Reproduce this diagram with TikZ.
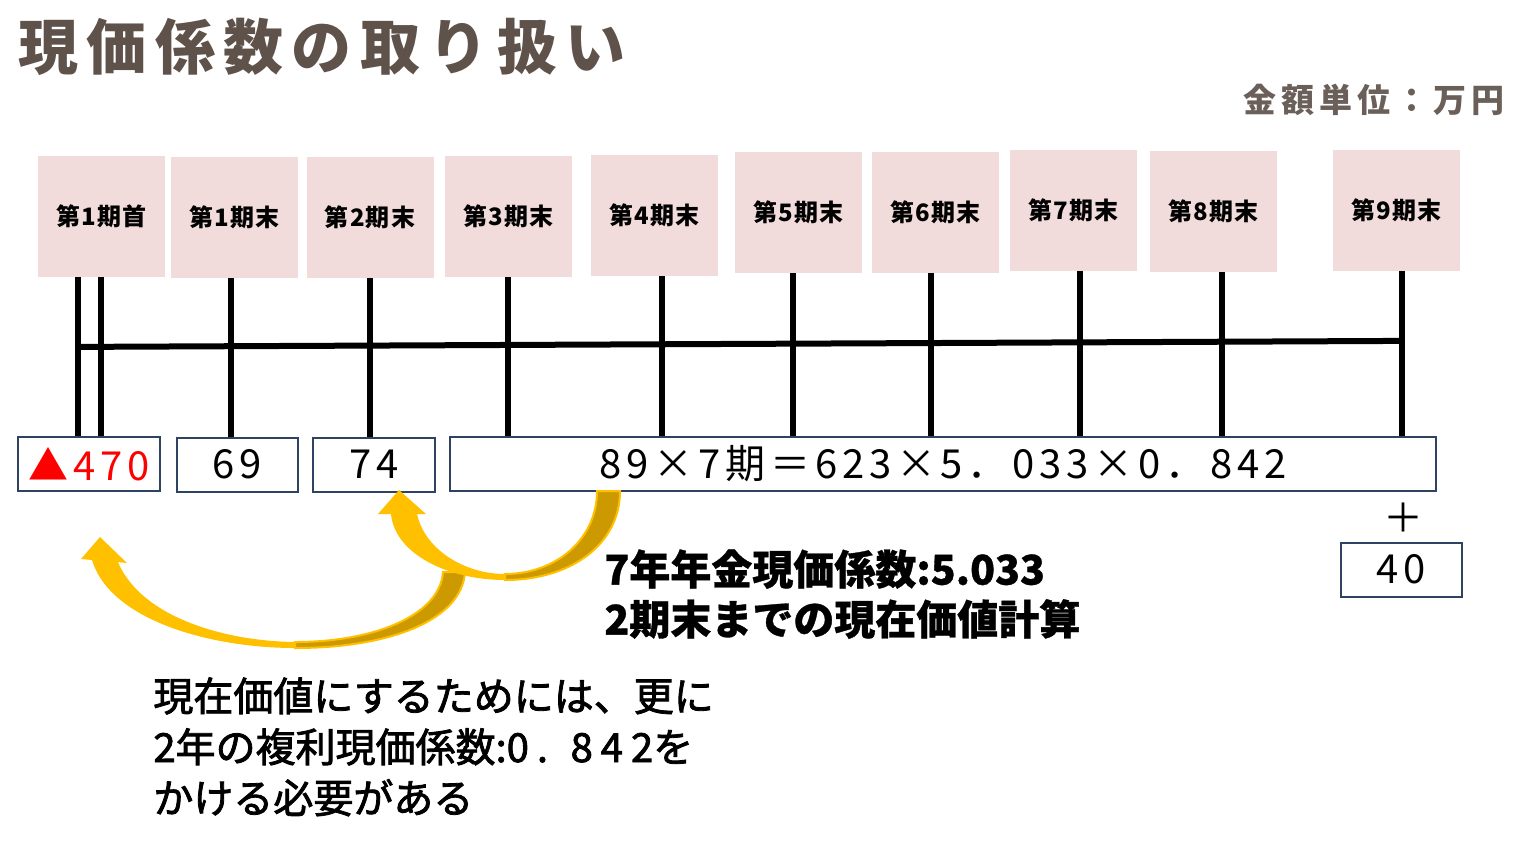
\documentclass[tikz,border=0pt]{standalone}
\usepackage{fontspec}
\usepackage{xcolor}
\usepackage{tikz}
\usetikzlibrary{calc}
\usetikzlibrary{positioning}
\setmainfont{Noto Sans CJK JP}
\newfontfamily\numfont{Noto Sans CJK JP}[LetterSpace=12]
\newfontfamily\titlefont{Noto Sans CJK JP}[LetterSpace=14]
\newfontfamily\unitfont{Noto Sans CJK JP}[LetterSpace=15]
\newfontfamily\labelfont{Noto Sans CJK JP}[LetterSpace=5]
\newfontfamily\midfont{Noto Sans CJK JP}[FakeBold=2]
\newfontfamily\midnumfont{Noto Sans CJK JP}[FakeBold=2,LetterSpace=20]
\newfontfamily\heavyfont{Noto Sans CJK JP}[FakeBold=0.8]
\definecolor{periodpink}{HTML}{F2DCDB}
\definecolor{titlebrown}{HTML}{5E524A}
\definecolor{unitbrown}{HTML}{6B6059}
\definecolor{boxnavy}{HTML}{2E4362}
\definecolor{arrowyellow}{HTML}{FFC000}
\definecolor{arrowdark}{HTML}{CC9A00}

\tikzset{
  period/.style={fill=periodpink, minimum width=63.5pt, minimum height=60.5pt, inner sep=0pt,
    font=\labelfont\bfseries\fontsize{12}{14}\selectfont},
  amount/.style={draw=boxnavy, line width=1pt, fill=white, minimum height=27pt, inner sep=0pt,
    font=\numfont\fontsize{20}{22}\selectfont},
  tick/.style={line width=3pt, black},
  bendarrow/.style={fill=arrowyellow},
  bendtail/.style={fill=arrowdark, draw=arrowyellow, line width=1pt}
}

\begin{document}
\begin{tikzpicture}[x=0.5pt,y=-0.5pt]
  \useasboundingbox (0,0) rectangle (1536,864);
  \node[anchor=west, inner sep=0pt, text=titlebrown, font=\titlefont\bfseries\fontsize{30}{32}\selectfont] (title) at (18,47) {現価係数の取り扱い};
  \node[anchor=east, inner sep=0pt, text=unitbrown, font=\unitfont\bfseries\fontsize{16.5}{18}\selectfont] (unit) at (1505,100) {金額単位：万円};

  \node[amount, minimum width=71pt, text=red] (v1) at (89,464) {▲470};
  \node[amount, minimum width=60.5pt] (v2) at (237.5,464.5) {69};
  \node[amount, minimum width=61pt] (v3) at (374,464.5) {74};
  \node[amount, minimum width=493pt] (v4) at (943,463.5) {89×7期＝623×5．033×0．842};
  \node[amount, minimum width=60.5pt] (v5) at (1401.5,569.5) {40};
  \node[font=\fontsize{20}{22}\selectfont] (plus) at (1403,518) {＋};

  \foreach \n/\lbl/\cx/\cy/\lx/\v in {
    p1/第1期首/101.5/216/101/v1,
    p2/第1期末/234.5/217.5/231/v2,
    p3/第2期末/370/217.5/370/v3,
    p4/第3期末/508.5/216/508/v4,
    p5/第4期末/654.5/215/662/v4,
    p6/第5期末/798.5/212.5/793/v4,
    p7/第6期末/935.5/212.5/931/v4,
    p8/第7期末/1073.5/210/1080/v4,
    p9/第8期末/1213.5/211/1222/v4,
    p10/第9期末/1396.5/210/1402/v4}
  {
    \node[period] (\n) at (\cx,\cy) {\lbl};
    \coordinate (top\n) at ($(\n.south)+(\lx-\cx,0)$);
    \draw[tick] (top\n) -- (top\n |- \v.north);
  }
  \coordinate (topx) at ($(p1.south)+(-23.5,0)$);
  \draw[tick] (topx) -- (topx |- v1.north);
  \coordinate (axisL) at ($(topx)+(0,70)$);
  \coordinate (axisR) at ($(topp10)+(0,70)$);
  \draw[tick] (axisL) -- (axisR);

  % 2 years back
  \fill[bendarrow] (100,537) -- (127,563) -- (118,562) .. controls (140,615) and (220,641) .. (295,642) -- (295,648) .. controls (210,648) and (110,620) .. (92,560) -- (81,559) -- cycle;
  \filldraw[bendtail] (465,572) .. controls (462,620) and (390,648) .. (295,648) -- (295,642) .. controls (375,642) and (440,615) .. (443,572) -- cycle;
  % 7 years annuity
  \fill[bendarrow] (399,490) -- (426,514) -- (417,514) .. controls (425,550) and (465,574) .. (505,574) -- (505,580) .. controls (450,580) and (395,555) .. (391,514) -- (378,514) -- cycle;
  \filldraw[bendtail] (620,491) .. controls (620,545) and (570,580) .. (505,580) -- (505,574) .. controls (555,574) and (597,540) .. (597,491) -- cycle;

  \node[anchor=north west, inner sep=0pt, align=left, font=\heavyfont\bfseries\fontsize{20.5}{25}\selectfont] (note1) at (604,549) {7年年金現価係数:5.033\\2期末までの現在価値計算};
  \node[anchor=north west, inner sep=0pt, align=left, font=\midfont\fontsize{20}{25.5}\selectfont] (note2) at (153,677) {現在価値にするためには、更に\\{\midnumfont 2}年の複利現価係数:{\midnumfont 0. 842}を\\かける必要がある};
\end{tikzpicture}
\end{document}
